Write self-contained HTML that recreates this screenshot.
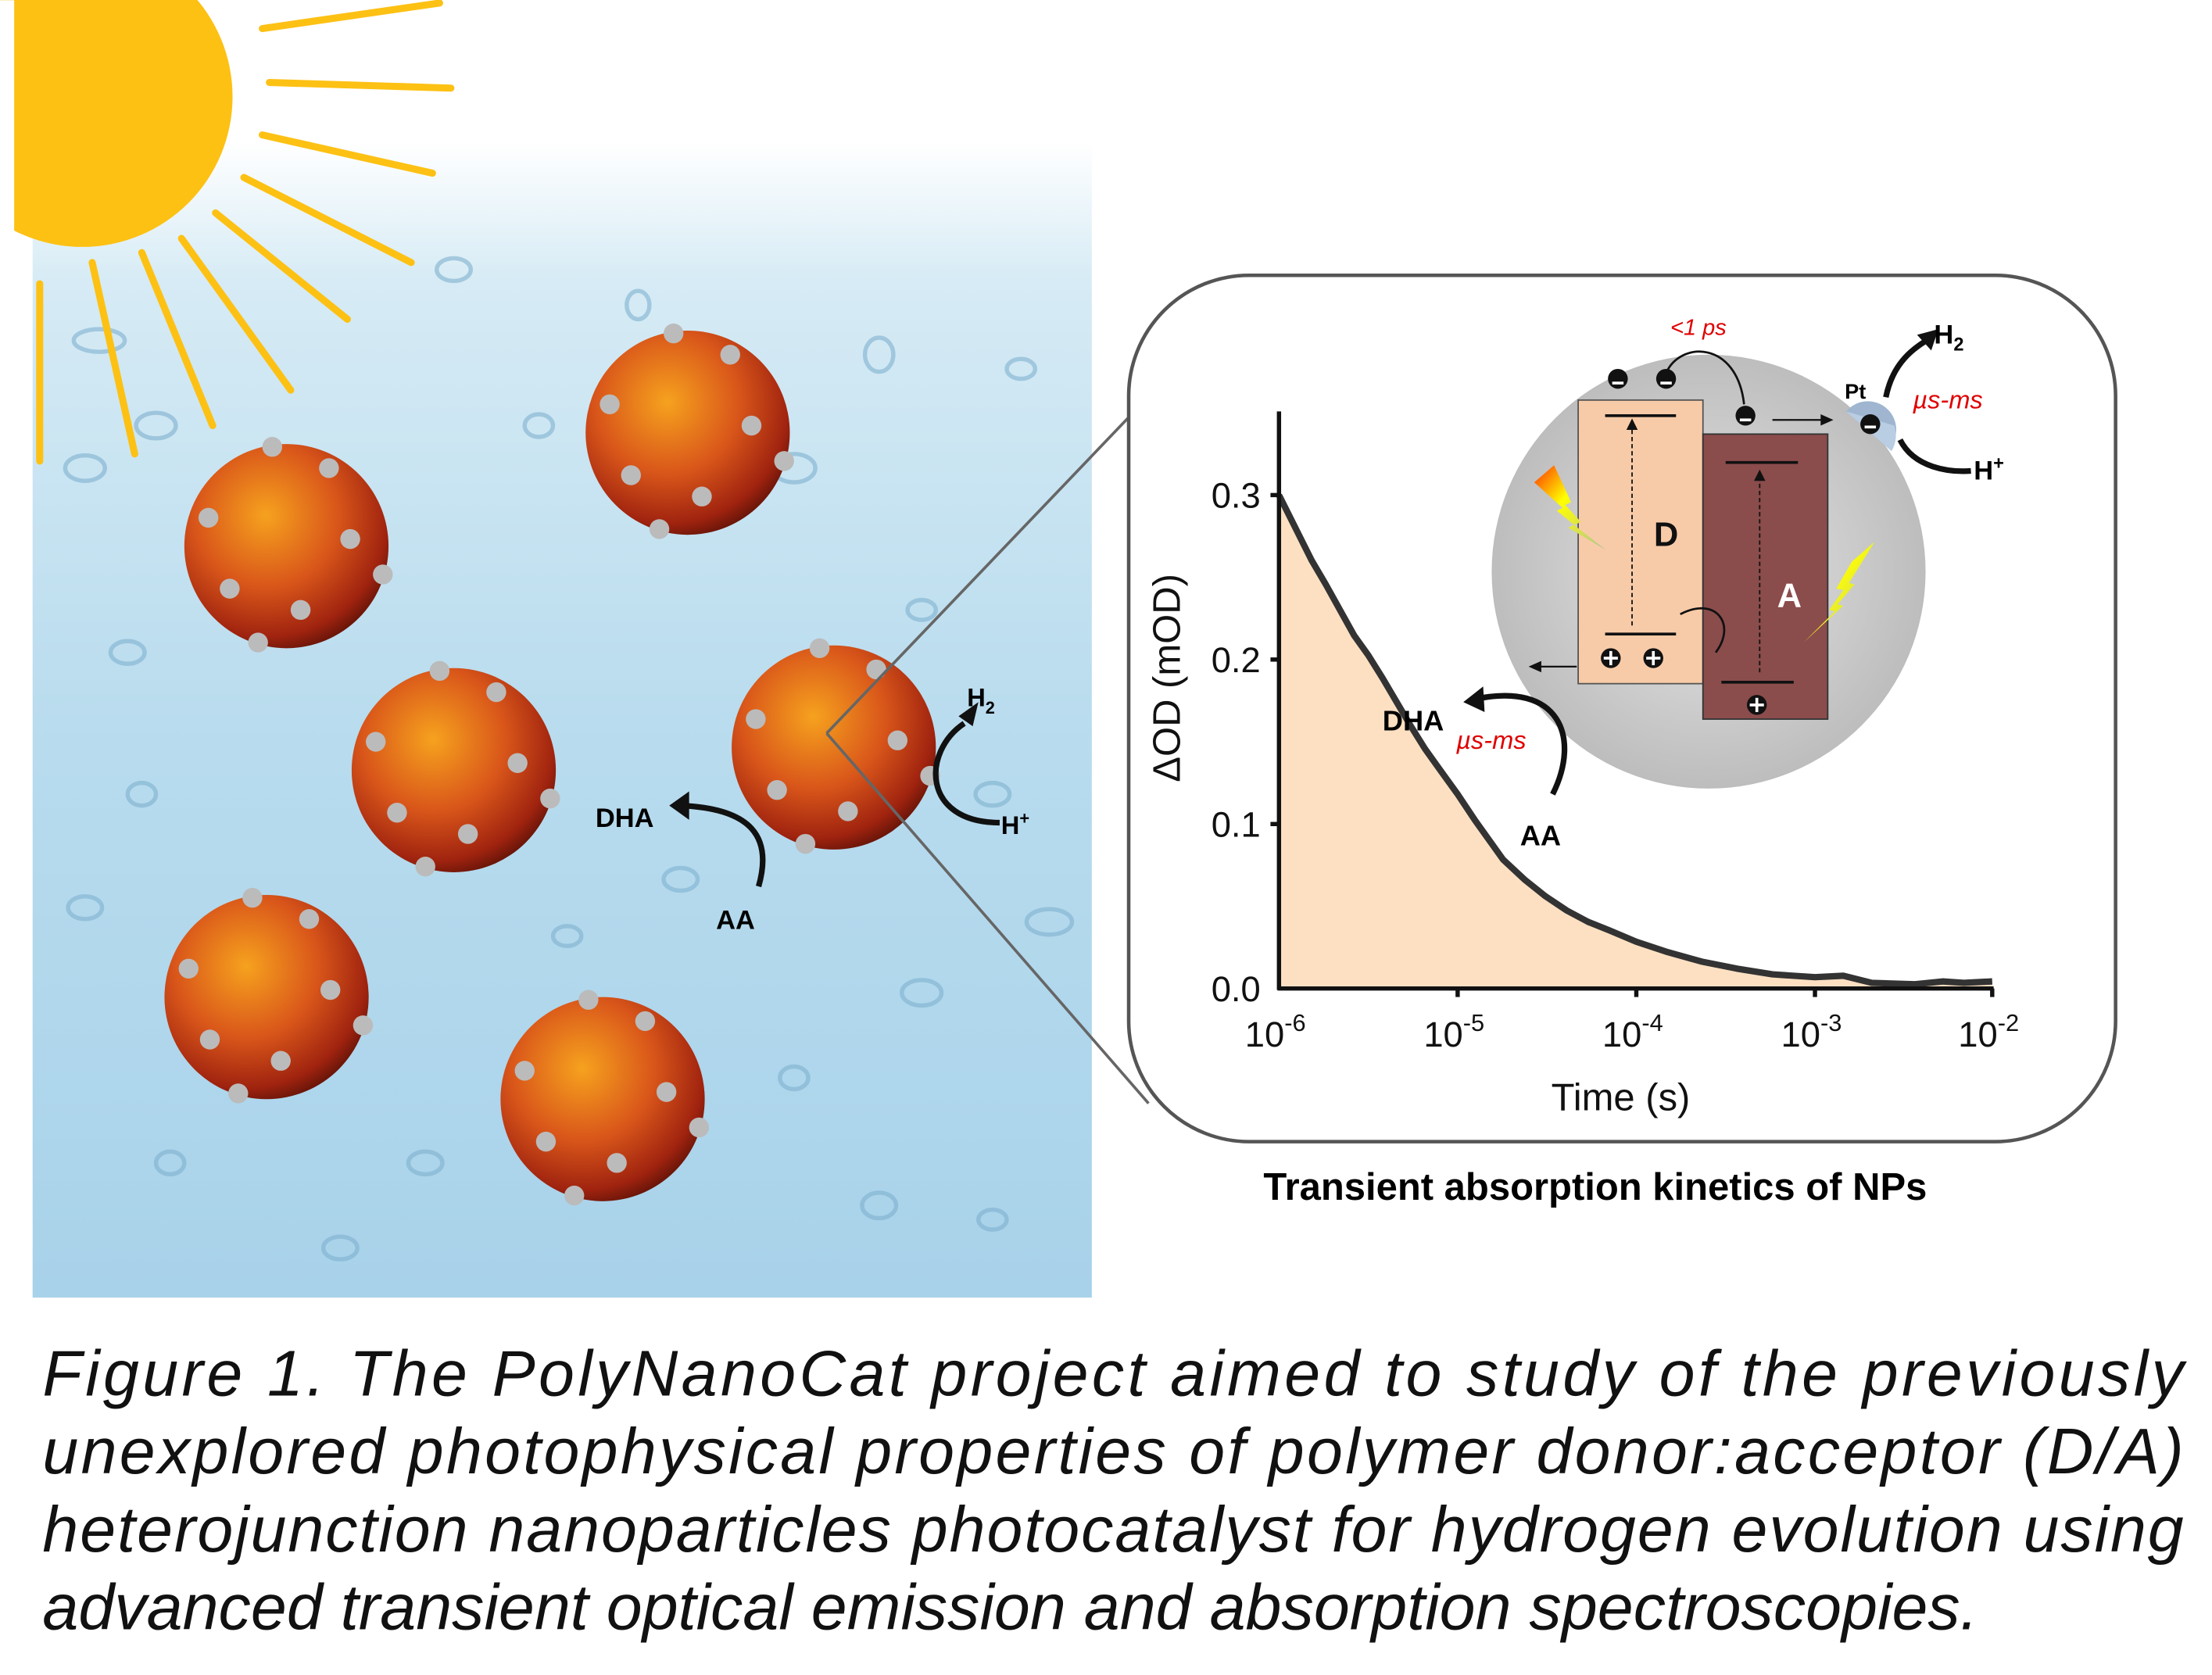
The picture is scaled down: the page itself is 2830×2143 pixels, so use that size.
<!DOCTYPE html>
<html><head><meta charset="utf-8"><style>
html,body{margin:0;padding:0;background:#fff;}
svg{display:block;}
</style></head><body>
<svg width="2830" height="2143" viewBox="0 0 1560 1181" xmlns="http://www.w3.org/2000/svg" font-family="Liberation Sans, Arial, sans-serif">
<defs>
<linearGradient id="water" x1="0" y1="0" x2="0" y2="1">
<stop offset="0" stop-color="#ffffff"/>
<stop offset="0.12" stop-color="#d6ebf5"/>
<stop offset="0.5" stop-color="#b9dcee"/>
<stop offset="1" stop-color="#a8d2ea"/>
</linearGradient>
<radialGradient id="ball" cx="0.4" cy="0.35" r="0.7">
<stop offset="0" stop-color="#f6a21e"/>
<stop offset="0.5" stop-color="#d9561a"/>
<stop offset="0.85" stop-color="#a0230f"/>
<stop offset="1" stop-color="#5c1208"/>
</radialGradient>
<radialGradient id="grey" cx="0.5" cy="0.5" r="0.5">
<stop offset="0" stop-color="#e6e6e6"/>
<stop offset="1" stop-color="#bdbdbd"/>
</radialGradient>
<linearGradient id="bolt" x1="0" y1="0" x2="1" y2="1">
<stop offset="0" stop-color="#ff3000"/>
<stop offset="0.4" stop-color="#ffff00"/>
<stop offset="1" stop-color="#b0c0a0"/>
</linearGradient>
<g id="np">
<circle r="72" fill="url(#ball)"/>
<circle cx="-40" cy="30" r="7" fill="#bbb"/><circle cx="10" cy="45" r="7" fill="#bbb"/>
<circle cx="45" cy="-5" r="7" fill="#bbb"/><circle cx="-55" cy="-20" r="7" fill="#bbb"/>
<circle cx="30" cy="-55" r="7" fill="#bbb"/><circle cx="-20" cy="68" r="7" fill="#bbb"/>
<circle cx="68" cy="20" r="7" fill="#bbb"/><circle cx="-10" cy="-70" r="7" fill="#bbb"/>
</g>
</defs>
<rect x="23" y="100" width="747" height="815" fill="url(#water)"/>
<g fill="none" stroke="#7fb0cf" stroke-width="3" opacity="0.6">
<ellipse cx="320" cy="190" rx="12" ry="8"/><ellipse cx="450" cy="215" rx="8" ry="10"/><ellipse cx="90" cy="460" rx="12" ry="8"/>
<ellipse cx="560" cy="330" rx="15" ry="10"/><ellipse cx="650" cy="430" rx="10" ry="7"/><ellipse cx="100" cy="560" rx="10" ry="8"/>
<ellipse cx="480" cy="620" rx="12" ry="8"/><ellipse cx="700" cy="560" rx="12" ry="8"/><ellipse cx="300" cy="820" rx="12" ry="8"/>
<ellipse cx="650" cy="700" rx="14" ry="9"/><ellipse cx="120" cy="820" rx="10" ry="8"/><ellipse cx="240" cy="880" rx="12" ry="8"/>
<ellipse cx="60" cy="330" rx="14" ry="9"/><ellipse cx="380" cy="300" rx="10" ry="8"/><ellipse cx="620" cy="850" rx="12" ry="9"/>
<ellipse cx="720" cy="260" rx="10" ry="7"/><ellipse cx="400" cy="660" rx="10" ry="7"/><ellipse cx="560" cy="760" rx="10" ry="8"/>
<ellipse cx="70" cy="240" rx="18" ry="8"/><ellipse cx="110" cy="300" rx="14" ry="9"/><ellipse cx="620" cy="250" rx="10" ry="12"/>
<ellipse cx="740" cy="650" rx="16" ry="9"/><ellipse cx="60" cy="640" rx="12" ry="8"/><ellipse cx="700" cy="860" rx="10" ry="7"/>
</g>
<rect x="0" y="0" width="10" height="200" fill="#fff"/>
<circle cx="58" cy="68" r="106" fill="#fdc114"/>
<rect x="0" y="0" width="10" height="200" fill="#fff"/>
<g stroke="#fdc114" stroke-width="5" stroke-linecap="round">
<line x1="185" y1="20" x2="310" y2="2"/><line x1="190" y1="58" x2="318" y2="62"/>
<line x1="185" y1="95" x2="305" y2="122"/><line x1="172" y1="125" x2="290" y2="185"/>
<line x1="152" y1="150" x2="245" y2="225"/><line x1="128" y1="168" x2="205" y2="275"/>
<line x1="100" y1="178" x2="150" y2="300"/><line x1="65" y1="185" x2="95" y2="320"/>
<line x1="28" y1="200" x2="28" y2="325"/>
</g>
<use href="#np" x="202" y="385"/><use href="#np" x="485" y="305"/><use href="#np" x="320" y="543"/>
<use href="#np" x="588" y="527"/><use href="#np" x="188" y="703"/><use href="#np" x="425" y="775"/>
<path d="M535,625 C545,590 530,570 480,568" fill="none" stroke="#111" stroke-width="4"/>
<polygon points="472,568 486,558 486,578" fill="#111"/>
<text x="420" y="583" font-size="19" font-weight="bold">DHA</text>
<text x="505" y="655" font-size="19" font-weight="bold">AA</text>
<path d="M680,510 C650,530 650,580 705,580" fill="none" stroke="#111" stroke-width="4"/>
<polygon points="690,495 676,505 686,512" fill="#111"/>
<text x="682" y="498" font-size="18" font-weight="bold">H<tspan font-size="12" dy="5">2</tspan></text>
<text x="706" y="588" font-size="18" font-weight="bold">H<tspan font-size="12" dy="-7">+</tspan></text>
<line x1="583" y1="517" x2="800" y2="290" stroke="#666" stroke-width="2"/>
<line x1="583" y1="517" x2="810" y2="778" stroke="#666" stroke-width="2"/>
<rect x="796" y="194" width="696" height="611" rx="85" fill="#fff" stroke="#555" stroke-width="2.5"/>
<path d="M902,349 L915,375 925,395 935,412 945,430 955,448 965,462 975,478 985,495 995,512 1005,528 1015,542 1028,560 1040,578 1050,592 1060,606 1075,620 1090,632 1105,642 1120,650 1135,656 1154,664 1175,671 1200,678 1225,683 1250,687 1280,689 1300,688 1320,693 1350,694 1370,692 1385,693 1405,692 L1405,697 L902,697 Z" fill="#fde0c2"/>
<path d="M902,349 L915,375 925,395 935,412 945,430 955,448 965,462 975,478 985,495 995,512 1005,528 1015,542 1028,560 1040,578 1050,592 1060,606 1075,620 1090,632 1105,642 1120,650 1135,656 1154,664 1175,671 1200,678 1225,683 1250,687 1280,689 1300,688 1320,693 1350,694 1370,692 1385,693 1405,692" fill="none" stroke="#333" stroke-width="4.5" stroke-linejoin="round"/>
<g stroke="#111" stroke-width="3">
<line x1="902" y1="290" x2="902" y2="698"/><line x1="901" y1="697" x2="1406" y2="697"/>
<line x1="896" y1="349" x2="902" y2="349"/><line x1="896" y1="465" x2="902" y2="465"/><line x1="896" y1="581" x2="902" y2="581"/>
<line x1="1028" y1="697" x2="1028" y2="703"/><line x1="1154" y1="697" x2="1154" y2="703"/><line x1="1280" y1="697" x2="1280" y2="703"/><line x1="1405" y1="697" x2="1405" y2="703"/>
</g>
<g font-size="25" fill="#111">
<text x="889" y="358" text-anchor="end">0.3</text><text x="889" y="474" text-anchor="end">0.2</text>
<text x="889" y="590" text-anchor="end">0.1</text><text x="889" y="706" text-anchor="end">0.0</text>
<text x="878" y="738">10<tspan font-size="17" dy="-11">-6</tspan></text>
<text x="1004" y="738">10<tspan font-size="17" dy="-11">-5</tspan></text>
<text x="1130" y="738">10<tspan font-size="17" dy="-11">-4</tspan></text>
<text x="1256" y="738">10<tspan font-size="17" dy="-11">-3</tspan></text>
<text x="1381" y="738">10<tspan font-size="17" dy="-11">-2</tspan></text>
<text x="1143" y="783" text-anchor="middle" font-size="27">Time (s)</text>
<text transform="translate(832,478) rotate(-90)" text-anchor="middle" font-size="27">ΔOD (mOD)</text>
</g>
<circle cx="1205" cy="403" r="153" fill="url(#grey)"/>
<rect x="1113" y="282" width="88" height="200" fill="#f8cba8" stroke="#555" stroke-width="1"/>
<rect x="1201" y="306" width="88" height="201" fill="#8b4c4c" stroke="#333" stroke-width="1"/>
<g stroke="#111" stroke-width="2">
<line x1="1132" y1="293" x2="1182" y2="293"/><line x1="1132" y1="447" x2="1182" y2="447"/>
<line x1="1217" y1="326" x2="1268" y2="326"/><line x1="1214" y1="481" x2="1265" y2="481"/>
<line x1="1151" y1="441" x2="1151" y2="300" stroke-dasharray="3,2" stroke-width="1"/>
<line x1="1241" y1="474" x2="1241" y2="337" stroke-dasharray="3,2" stroke-width="1"/>
<line x1="1250" y1="296" x2="1285" y2="296" stroke-width="1.2"/>
<line x1="1112" y1="470" x2="1085" y2="470" stroke-width="1.2"/>
</g>
<polygon points="1151,295 1147,303 1155,303" fill="#111"/><polygon points="1241,331 1237,339 1245,339" fill="#111"/>
<polygon points="1293,296 1284,292 1284,300" fill="#111"/><polygon points="1078,470 1087,466 1087,474" fill="#111"/>
<path d="M1175,263 C1185,240 1225,240 1230,285" fill="none" stroke="#111" stroke-width="1.5"/>
<path d="M1210,460 C1225,440 1210,420 1185,433" fill="none" stroke="#111" stroke-width="1.5"/>
<g fill="#111"><circle cx="1141" cy="267" r="7"/><circle cx="1175" cy="267" r="7"/><circle cx="1231" cy="293" r="7"/>
<circle cx="1136" cy="464" r="7"/><circle cx="1166" cy="464" r="7"/><circle cx="1239" cy="497" r="7"/></g>
<g stroke="#fff" stroke-width="2"><line x1="1137" y1="270" x2="1145" y2="270"/><line x1="1171" y1="270" x2="1179" y2="270"/><line x1="1227" y1="296" x2="1235" y2="296"/>
<line x1="1131" y1="464" x2="1141" y2="464"/><line x1="1136" y1="459" x2="1136" y2="469"/>
<line x1="1161" y1="464" x2="1171" y2="464"/><line x1="1166" y1="459" x2="1166" y2="469"/>
<line x1="1234" y1="497" x2="1244" y2="497"/><line x1="1239" y1="492" x2="1239" y2="502"/></g>
<text x="1175" y="385" text-anchor="middle" font-size="24" font-weight="bold" fill="#111">D</text>
<text x="1262" y="428" text-anchor="middle" font-size="24" font-weight="bold" fill="#fff">A</text>
<polygon points="1082,340 1096,328 1108,354 1104,356 1115,368 1110,370 1133,388 1106,372 1110,370 1098,360 1102,358" fill="url(#bolt)"/>
<polygon points="1322,382 1306,396 1295,415 1300,416 1290,430 1294,431 1272,453 1300,427 1296,426 1308,412 1304,411" fill="url(#bolt)"/>
<path d="M1302,290 A20,20 0 0,1 1336,310 L1334,318 Z" fill="#9fb5d0"/>
<path d="M1302,290 L1334,318 A22,22 0 0,0 1336,300 Z" fill="#b9cde3"/>
<circle cx="1319" cy="299" r="7" fill="#111"/><line x1="1315" y1="301" x2="1323" y2="301" stroke="#fff" stroke-width="2"/>
<text x="1301" y="281" font-size="15" font-weight="bold">Pt</text>
<path d="M1330,280 C1335,255 1350,245 1362,238" fill="none" stroke="#111" stroke-width="4"/>
<polygon points="1367,232 1352,236 1362,247" fill="#111"/>
<path d="M1340,310 C1350,330 1375,333 1390,332" fill="none" stroke="#111" stroke-width="4"/>
<text x="1364" y="242" font-size="19" font-weight="bold">H<tspan font-size="13" dy="5">2</tspan></text>
<text x="1392" y="338" font-size="19" font-weight="bold">H<tspan font-size="13" dy="-7">+</tspan></text>
<text x="1178" y="236" font-size="16" font-style="italic" fill="#e00000">&lt;1 ps</text>
<text x="1349" y="288" font-size="18" font-style="italic" fill="#e00000">µs-ms</text>
<text x="1027" y="528" font-size="18" font-style="italic" fill="#e00000">µs-ms</text>
<path d="M1095,560 C1115,520 1100,480 1040,493" fill="none" stroke="#111" stroke-width="4"/>
<polygon points="1032,495 1046,484 1047,502" fill="#111"/>
<text x="975" y="515" font-size="20" font-weight="bold">DHA</text>
<text x="1072" y="596" font-size="20" font-weight="bold">AA</text>
<text x="1125" y="846" text-anchor="middle" font-size="27" font-weight="bold">Transient absorption kinetics of NPs</text>
<g font-size="45.5" font-style="italic" fill="#111">
<text x="30" y="984" textLength="1510" lengthAdjust="spacing">Figure 1. The PolyNanoCat project aimed to study of the previously</text>
<text x="30" y="1039" textLength="1510" lengthAdjust="spacing">unexplored photophysical properties of polymer donor:acceptor (D/A)</text>
<text x="30" y="1094" textLength="1510" lengthAdjust="spacing">heterojunction nanoparticles photocatalyst for hydrogen evolution using</text>
<text x="30" y="1149" textLength="1365" lengthAdjust="spacing">advanced transient optical emission and absorption spectroscopies.</text>
</g>
</svg>
</body></html>
